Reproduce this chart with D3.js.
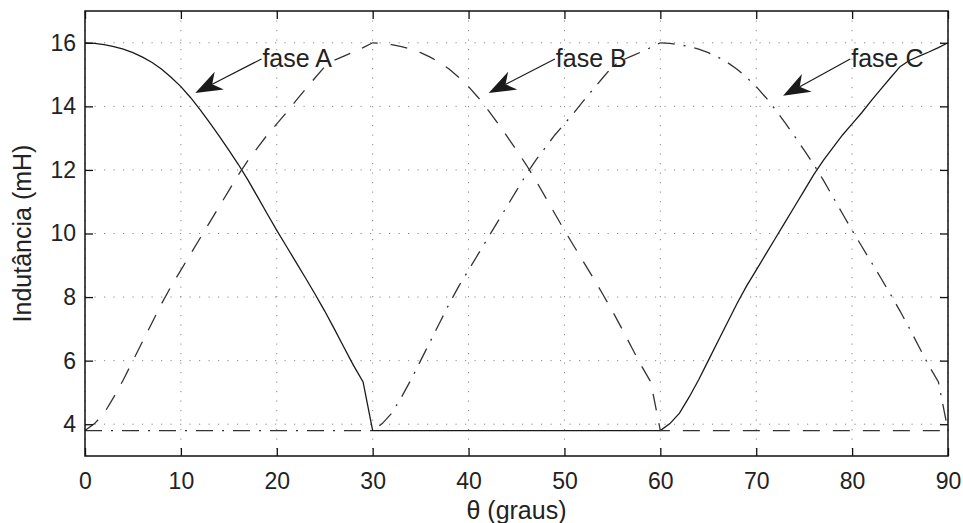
<!DOCTYPE html>
<html>
<head>
<meta charset="utf-8">
<script src="https://cdn.jsdelivr.net/npm/d3@7"></script>
<style>
  html, body { margin: 0; padding: 0; background: #fff; }
  svg text { font-family: "Liberation Sans", Arial, sans-serif; fill: #222; }
</style>
</head>
<body>
<div id="chart"></div>
<script>
// inductance per phase, read every degree from 0 to 90
var theta = d3.range(0, 91);

var phaseA = [
  16.00, 15.98, 15.94, 15.88, 15.80, 15.69, 15.55, 15.38, 15.17, 14.91,
  14.62, 14.28, 13.90, 13.49, 13.06, 12.62, 12.17, 11.68, 11.15, 10.62,
  10.10, 9.60, 9.10, 8.60, 8.09, 7.56, 7.00, 6.42, 5.85, 5.33,
  3.80, 3.80, 3.80, 3.80, 3.80, 3.80, 3.80, 3.80, 3.80, 3.80,
  3.80, 3.80, 3.80, 3.80, 3.80, 3.80, 3.80, 3.80, 3.80, 3.80,
  3.80, 3.80, 3.80, 3.80, 3.80, 3.80, 3.80, 3.80, 3.80, 3.80,
  3.80, 4.02, 4.35, 4.85, 5.40, 6.00, 6.60, 7.20, 7.80, 8.35,
  8.85, 9.35, 9.85, 10.35, 10.85, 11.35, 11.85, 12.30, 12.70, 13.10,
  13.45, 13.80, 14.18, 14.54, 14.90, 15.25, 15.45, 15.58, 15.71, 15.85,
  16.00
];

var phaseB = [
  3.80, 4.02, 4.35, 4.85, 5.40, 6.00, 6.60, 7.20, 7.80, 8.35,
  8.85, 9.35, 9.85, 10.35, 10.85, 11.35, 11.85, 12.30, 12.70, 13.10,
  13.45, 13.80, 14.18, 14.54, 14.90, 15.25, 15.45, 15.58, 15.71, 15.85,
  16.00, 15.98, 15.94, 15.88, 15.80, 15.69, 15.55, 15.38, 15.17, 14.91,
  14.62, 14.28, 13.90, 13.49, 13.06, 12.62, 12.17, 11.68, 11.15, 10.62,
  10.10, 9.60, 9.10, 8.60, 8.09, 7.56, 7.00, 6.42, 5.85, 5.33,
  3.80, 3.80, 3.80, 3.80, 3.80, 3.80, 3.80, 3.80, 3.80, 3.80,
  3.80, 3.80, 3.80, 3.80, 3.80, 3.80, 3.80, 3.80, 3.80, 3.80,
  3.80, 3.80, 3.80, 3.80, 3.80, 3.80, 3.80, 3.80, 3.80, 3.80,
  3.80
];

var phaseC = [
  3.80, 3.80, 3.80, 3.80, 3.80, 3.80, 3.80, 3.80, 3.80, 3.80,
  3.80, 3.80, 3.80, 3.80, 3.80, 3.80, 3.80, 3.80, 3.80, 3.80,
  3.80, 3.80, 3.80, 3.80, 3.80, 3.80, 3.80, 3.80, 3.80, 3.80,
  3.80, 4.02, 4.35, 4.85, 5.40, 6.00, 6.60, 7.20, 7.80, 8.35,
  8.85, 9.35, 9.85, 10.35, 10.85, 11.35, 11.85, 12.30, 12.70, 13.10,
  13.45, 13.80, 14.18, 14.54, 14.90, 15.25, 15.45, 15.58, 15.71, 15.85,
  16.00, 15.98, 15.94, 15.88, 15.80, 15.69, 15.55, 15.38, 15.17, 14.91,
  14.62, 14.28, 13.90, 13.49, 13.06, 12.62, 12.17, 11.68, 11.15, 10.62,
  10.10, 9.60, 9.10, 8.60, 8.09, 7.56, 7.00, 6.42, 5.85, 5.33,
  3.80
];

var xTicks = [0, 10, 20, 30, 40, 50, 60, 70, 80, 90];
var yTicks = [4, 6, 8, 10, 12, 14, 16];

// annotations: label, text start, arrow tail and tip (data coords)
var noteLabels = ["fase A", "fase B", "fase C"];
var noteTextX = [18.4, 49.0, 79.8];
var noteTextY = [15.23, 15.23, 15.23];
var noteTailY = [15.49, 15.49, 15.49];
var noteTipX = [11.5, 42.1, 72.8];
var noteTipY = [14.42, 14.42, 14.33];

var W = 963, H = 523;
var margin = { top: 11, right: 15, bottom: 67, left: 85 };
var iw = W - margin.left - margin.right;
var ih = H - margin.top - margin.bottom;

var svg = d3.select('#chart').append('svg')
  .attr('width', W)
  .attr('height', H);

svg.append('rect').attr('width', W).attr('height', H).attr('fill', '#fff');

var g = svg.append('g').attr('transform', 'translate(' + margin.left + ',' + margin.top + ')');

var x = d3.scaleLinear().domain([0, 90]).range([0, iw]);
var y = d3.scaleLinear().domain([3, 17]).range([ih, 0]);

// dotted grid
g.append('g').selectAll('line').data(xTicks).enter().append('line')
  .attr('x1', function(d){ return x(d); }).attr('x2', function(d){ return x(d); })
  .attr('y1', 0).attr('y2', ih)
  .attr('stroke', '#888').attr('stroke-width', 1).attr('stroke-dasharray', '1.2,8.3');
g.append('g').selectAll('line').data(yTicks).enter().append('line')
  .attr('y1', function(d){ return y(d); }).attr('y2', function(d){ return y(d); })
  .attr('x1', 0).attr('x2', iw)
  .attr('stroke', '#888').attr('stroke-width', 1).attr('stroke-dasharray', '1.2,8.3');

// curves
var line = d3.line()
  .x(function(d, i){ return x(theta[i]); })
  .y(function(d){ return y(d); });

var series = [
  { vals: phaseA, dash: null, col: '#1a1a1a' },
  { vals: phaseB, dash: '17,13', col: '#333' },
  { vals: phaseC, dash: '17,9,2,9', col: '#333' }
];
series.forEach(function(s){
  g.append('path')
    .attr('d', line(s.vals))
    .attr('fill', 'none')
    .attr('stroke', s.col)
    .attr('stroke-width', 1.3)
    .attr('stroke-dasharray', s.dash);
});

// axes, ticks inside like matlab
var fontTick = '23px';
g.append('g').attr('transform', 'translate(0,' + ih + ')')
  .call(d3.axisBottom(x).tickValues(xTicks).tickSize(-8).tickPadding(16.7));
g.append('g')
  .call(d3.axisLeft(y).tickValues(yTicks).tickSize(-8).tickPadding(9));
g.append('g').call(d3.axisTop(x).tickValues(xTicks).tickSize(-8).tickFormat(''));
g.append('g').attr('transform', 'translate(' + iw + ',0)')
  .call(d3.axisRight(y).tickValues(yTicks).tickSize(-8).tickFormat(''));

g.selectAll('.domain').remove();
g.selectAll('.tick line').attr('stroke', '#111').attr('stroke-width', 1.3);
g.selectAll('.tick text').attr('font-size', fontTick).attr('fill', '#222')
  .style('font-family', '"Liberation Sans", Arial, sans-serif');

g.append('rect')
  .attr('x', 0).attr('y', 0).attr('width', iw).attr('height', ih)
  .attr('fill', 'none').attr('stroke', '#111').attr('stroke-width', 1.5);

// annotations with arrows
noteLabels.forEach(function(lab, i){
  var tx = x(noteTextX[i]), ty = y(noteTailY[i]);
  var px = x(noteTipX[i]), py = y(noteTipY[i]);
  var dx = tx - px, dy = ty - py;
  var len = Math.sqrt(dx * dx + dy * dy);
  var ux = dx / len, uy = dy / len;
  var nx = -uy, ny = ux;
  var headL = 27, headW = 10, notch = 19;
  var bx = px + ux * headL, by = py + uy * headL;
  var mx = px + ux * notch, my = py + uy * notch;
  g.append('line')
    .attr('x1', tx).attr('y1', ty).attr('x2', mx).attr('y2', my)
    .attr('stroke', '#1a1a1a').attr('stroke-width', 1.2);
  g.append('path')
    .attr('d', 'M' + px + ',' + py +
      'L' + (bx + nx * headW) + ',' + (by + ny * headW) +
      'L' + mx + ',' + my +
      'L' + (bx - nx * headW) + ',' + (by - ny * headW) + 'Z')
    .attr('fill', '#1a1a1a');
  g.append('text')
    .attr('x', tx + 1).attr('y', y(noteTextY[i]))
    .attr('font-size', '25px')
    .text(lab);
});

// axis titles
svg.append('text')
  .attr('x', margin.left + iw / 2).attr('y', 519)
  .attr('text-anchor', 'middle').attr('font-size', '25px')
  .text('θ (graus)');
svg.append('text')
  .attr('transform', 'translate(31,' + (margin.top + ih / 2) + ') rotate(-90)')
  .attr('text-anchor', 'middle').attr('font-size', '25px')
  .text('Indutância (mH)');
</script>
</body>
</html>
